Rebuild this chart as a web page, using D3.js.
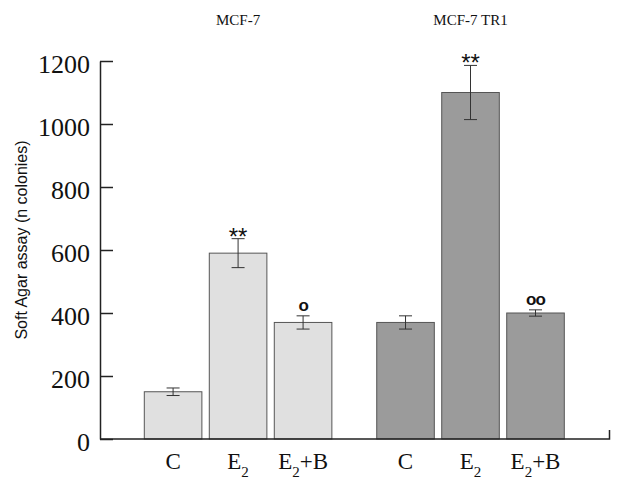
<!DOCTYPE html>
<html><head><meta charset="utf-8">
<script src="https://cdn.jsdelivr.net/npm/d3@7"></script>
<style>body{margin:0;background:#fff}
.serif{font-family:'Liberation Serif','Times New Roman',serif}
.sans{font-family:'Liberation Sans',Arial,sans-serif}
</style>
</head><body>
<script>
const groups = ["MCF-7", "MCF-7 TR1"];
const treatments = ["C", "E2", "E2+B"];
const valuesMCF7 = [150, 590, 370];
const errorsMCF7 = [12, 46, 21];
const valuesTR1 = [370, 1100, 400];
const errorsTR1 = [21, 86, 10];
const marksMCF7 = ["", "**", "o"];
const marksTR1 = ["", "**", "oo"];
const yTicks = [0, 200, 400, 600, 800, 1000, 1200];
const groupColors = ["#e0e0e0", "#9b9b9b"];

const W = 621, H = 489;
const svg = d3.select("body").append("svg").attr("width", W).attr("height", H);

const y = d3.scaleLinear().domain([0, 1200]).range([439, 61]);
const xg = d3.scaleBand().domain(groups).range([144.3, 564.3]).paddingInner(0.193).paddingOuter(0);
const xi = d3.scaleBand().domain(treatments).range([0, xg.bandwidth()]).paddingInner(0.114).paddingOuter(0);

const data = [];
groups.forEach((g, gi) => {
  const vals = gi === 0 ? valuesMCF7 : valuesTR1;
  const errs = gi === 0 ? errorsMCF7 : errorsTR1;
  const marks = gi === 0 ? marksMCF7 : marksTR1;
  treatments.forEach((t, ti) => data.push({g, gi, t, v: vals[ti], e: errs[ti], m: marks[ti]}));
});

// y axis
const yAxis = d3.axisLeft(y).tickValues(yTicks).tickFormat(d3.format("d"))
  .tickSizeInner(-13).tickSizeOuter(0).tickPadding(10);
const ya = svg.append("g").attr("transform", "translate(100,0)").call(yAxis)
  .attr("font-family", null).attr("font-size", null);
ya.select(".domain").attr("stroke", "#222").attr("stroke-width", 1.5);
ya.selectAll(".tick line").attr("stroke", "#222").attr("stroke-width", 1.5);
ya.selectAll(".tick text").attr("class", "serif")
  .attr("font-size", 26).attr("fill", "#111").attr("x", -10).attr("dy", "0.45em");

// bars
svg.append("g").selectAll("rect").data(data).join("rect")
  .attr("x", d => xg(d.g) + xi(d.t))
  .attr("y", d => y(d.v))
  .attr("width", xi.bandwidth())
  .attr("height", d => y(0) - y(d.v))
  .attr("fill", d => groupColors[d.gi])
  .attr("stroke", "#555").attr("stroke-width", 1);

// x axis baseline
svg.append("path")
  .attr("d", d3.line()([[100, y(0)], [609.5, y(0)], [609.5, y(0) - 9]]))
  .attr("fill", "none").attr("stroke", "#222").attr("stroke-width", 1.5);

// error bars
const eb = svg.append("g").attr("stroke", "#333").attr("stroke-width", 1).attr("fill", "none");
data.forEach(d => {
  const cx = xg(d.g) + xi(d.t) + xi.bandwidth() / 2;
  const cw = 6.5;
  eb.append("path").attr("d",
    `M${cx},${y(d.v + d.e)}V${y(d.v - d.e)}M${cx - cw},${y(d.v + d.e)}H${cx + cw}M${cx - cw},${y(d.v - d.e)}H${cx + cw}`);
});

// significance marks
svg.append("g").selectAll("text").data(data.filter(d => d.m)).join("text")
  .attr("class", "sans")
  .attr("x", d => xg(d.g) + xi(d.t) + xi.bandwidth() / 2)
  .attr("y", d => y(d.v + d.e) - (d.m === "**" ? -6 : 5))
  .attr("text-anchor", "middle")
  .attr("font-size", d => d.m === "**" ? 24 : 17)
  .attr("font-weight", d => d.m === "**" ? "normal" : "bold")
  .attr("letter-spacing", d => d.m === "**" ? 0 : -1)
  .attr("fill", "#111")
  .text(d => d.m);

// x category labels
const xl = svg.append("g").selectAll("text").data(data).join("text")
  .attr("class", "serif")
  .attr("x", d => xg(d.g) + xi(d.t) + xi.bandwidth() / 2)
  .attr("y", 469)
  .attr("text-anchor", "middle")
  .attr("font-size", 23)
  .attr("fill", "#111");
xl.each(function(d) {
  const t = d3.select(this);
  if (d.t === "C") { t.text("C"); return; }
  t.append("tspan").text("E");
  t.append("tspan").attr("font-size", 15).attr("dy", 8).text("2");
  if (d.t === "E2+B") t.append("tspan").attr("dy", -8).text("+B");
});

// group titles
svg.append("g").selectAll("text").data(groups).join("text")
  .attr("class", "serif")
  .attr("x", g => xg(g) + xg.bandwidth() / 2)
  .attr("y", 25)
  .attr("text-anchor", "middle")
  .attr("font-size", 15)
  .attr("fill", "#111")
  .text(g => g);

// y axis title
svg.append("text")
  .attr("class", "sans")
  .attr("transform", "translate(27,240) rotate(-90)")
  .attr("text-anchor", "middle")
  .attr("font-size", 16)
  .attr("fill", "#111")
  .text("Soft Agar assay (n colonies)");
</script>
</body></html>
